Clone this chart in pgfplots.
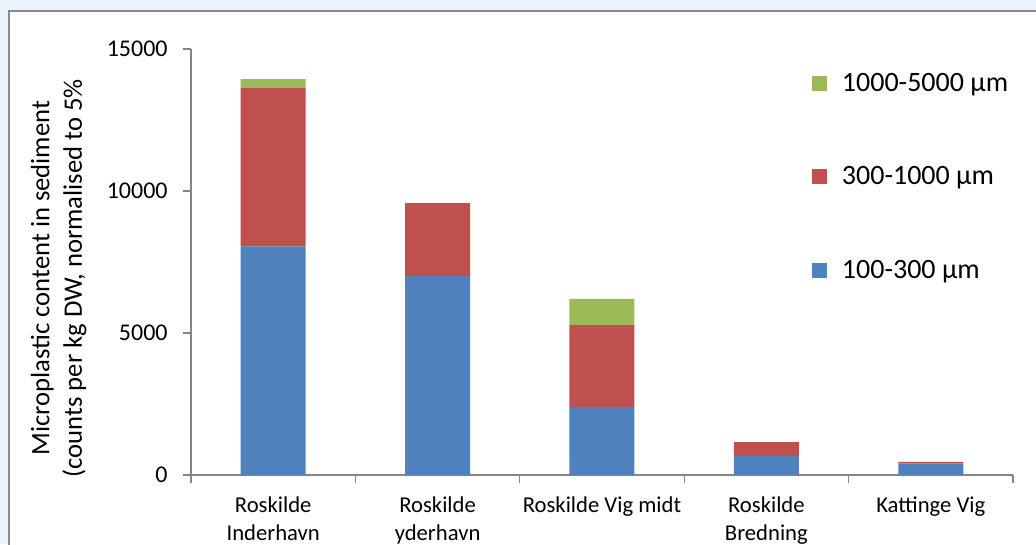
\documentclass[border=0pt]{standalone}
\usepackage{fontspec}
\setmainfont{Carlito}
\usepackage{pgfplots}
\pgfplotsset{compat=1.18}
\definecolor{bgblue}{RGB}{232,243,253}
\definecolor{framegray}{RGB}{137,137,137}
\definecolor{axgray}{RGB}{134,134,134}
\definecolor{cblue}{RGB}{79,129,189}
\definecolor{cred}{RGB}{192,80,77}
\definecolor{cgreen}{RGB}{155,187,89}
\begin{document}
\begin{tikzpicture}
\useasboundingbox (0,0) rectangle (777pt,-408pt);
\fill[bgblue] (0,0) rectangle (777pt,-408pt);
\filldraw[fill=white, draw=framegray, line width=1.5pt] (6.75pt,-8.25pt) rectangle (800pt,-430pt);
\begin{axis}[
  at={(143.25pt,-356.25pt)}, anchor=south west,
  scale only axis, width=616.5pt, height=319.5pt,
  ybar stacked, bar width=48.75pt,
  xmin=-0.5, xmax=4.5, ymin=0, ymax=15000,
  axis x line*=bottom, axis y line*=left,
  axis line style={axgray, line width=1pt},
  tick align=outside, major tick length=6pt,
  tick style={axgray, line width=1pt},
  xtick={-0.5,0.5,1.5,2.5,3.5,4.5}, xticklabels={},
  extra x ticks={0,1,2,3,4},
  extra x tick labels={{Roskilde\\Inderhavn},{Roskilde\\yderhavn},{Roskilde Vig midt},{Roskilde\\Bredning},{Kattinge Vig}},
  extra x tick style={major tick length=0pt, tick label style={align=center, anchor=north, yshift=-12.5pt, font=\fontsize{17}{21.5}\selectfont}},
  ytick={0,5000,10000,15000},
  scaled y ticks=false,
  yticklabel style={font=\fontsize{18}{21}\selectfont, xshift=-8pt},
  /pgf/number format/assume math mode=true,
  /pgf/number format/1000 sep={},
  ylabel={Microplastic content in sediment\\(counts per kg DW, normalised to 5\%},
  ylabel style={at={(axis description cs:-0.161,0.462)}, anchor=center, align=center, font=\fontsize{20}{24.5}\selectfont},
  reverse legend,
  legend cell align=left,
  legend image code/.code={\fill[#1] (0pt,-5.6pt) rectangle (11.25pt,5.6pt);},
  legend style={at={(axis description cs:0.7555,0.95)}, anchor=north west, draw=none, fill=none, inner sep=0pt, row sep=51pt, font=\fontsize{21}{25}\selectfont, nodes={inner xsep=0pt}, /tikz/every odd column/.append style={column sep=11pt}},
]
\addplot[fill=cblue, draw=none] coordinates {(0,8050) (1,7000) (2,2400) (3,670) (4,410)};
\addplot[fill=cred, draw=none] coordinates {(0,5570) (1,2570) (2,2880) (3,490) (4,50)};
\addplot[fill=cgreen, draw=none] coordinates {(0,320) (1,0) (2,920) (3,0) (4,0)};
\legend{100-300 µm, 300-1000 µm, 1000-5000 µm}
\end{axis}
\end{tikzpicture}
\end{document}
